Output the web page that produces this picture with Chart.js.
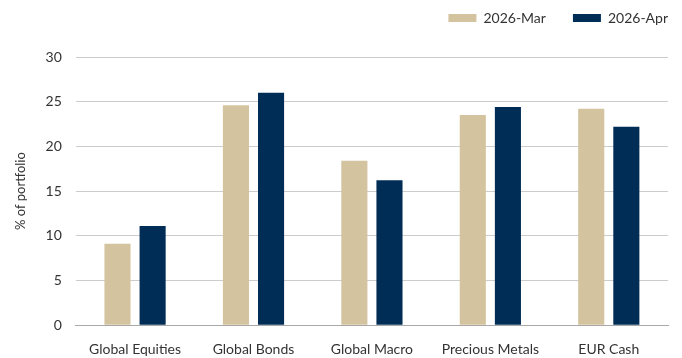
<!DOCTYPE html>
<html>
<head>
<meta charset="utf-8">
<script src="https://cdn.jsdelivr.net/npm/chart.js@4"></script>
<style>
  html, body { margin: 0; padding: 0; background: #fff; }
  #wrap { width: 682px; height: 358px; }
</style>
</head>
<body>
<div id="wrap"><canvas id="myChart"></canvas></div>
<script>
// data block
const categories = ["Global Equities", "Global Bonds", "Global Macro", "Precious Metals", "EUR Cash"];
const marValues = [9.1, 24.6, 18.4, 23.5, 24.2];
const aprValues = [11.1, 26.0, 16.2, 24.4, 22.2];
const yTicks = [0, 5, 10, 15, 20, 25, 30];

const fontFamily = "Lato, 'Open Sans', sans-serif";

const data = {
  labels: categories,
  datasets: [
    {
      label: "2026-Mar",
      data: marValues,
      backgroundColor: "#d4c39f",
      borderWidth: 0,
    },
    {
      label: "2026-Apr",
      data: aprValues,
      backgroundColor: "#002d56",
      borderWidth: 0,
    },
  ],
};

// plugin - extra room under legend and push it to the right edge
const legendSpacing = {
  id: "legendSpacing",
  beforeInit(chart) {
    const fit = chart.legend.fit;
    chart.legend.fit = function () {
      fit.bind(chart.legend)();
      this.height += 22;
    };
  },
  afterLayout(chart) {
    chart.legend.left += 27;
    chart.legend.right += 27;
  },
};

// config block
const config = {
  type: "bar",
  data: data,
  options: {
    responsive: true,
    maintainAspectRatio: false,
    animation: false,
    categoryPercentage: 0.593,
    barPercentage: 0.743,
    layout: { padding: { top: -16, right: 14, bottom: -16, left: 13 } },
    plugins: {
      legend: {
        position: "top",
        align: "end",
        labels: {
          boxWidth: 28,
          boxHeight: 8,
          padding: 27,
          color: "#333",
          font: { family: fontFamily, size: 14 },
        },
      },
      tooltip: { enabled: false },
    },
    scales: {
      x: {
        grid: { display: false, drawTicks: false },
        border: { color: "#a8a8a8", width: 1 },
        ticks: {
          color: "#333",
          padding: 16,
          font: { family: fontFamily, size: 14 },
        },
      },
      y: {
        min: 0,
        max: 30,
        afterBuildTicks: (axis) => {
          axis.ticks = yTicks.map((v) => ({ value: v }));
        },
        grid: { color: "#cccccc", lineWidth: 1, drawTicks: false },
        border: { display: false },
        ticks: {
          color: "#333",
          padding: 14,
          font: { family: fontFamily, size: 14 },
        },
        title: {
          display: true,
          text: "% of portfolio",
          color: "#333",
          padding: { top: 0, bottom: 3 },
          font: { family: fontFamily, size: 13 },
        },
      },
    },
  },
  plugins: [legendSpacing],
};

// render init block
const myChart = new Chart(document.getElementById("myChart"), config);
</script>
</body>
</html>
